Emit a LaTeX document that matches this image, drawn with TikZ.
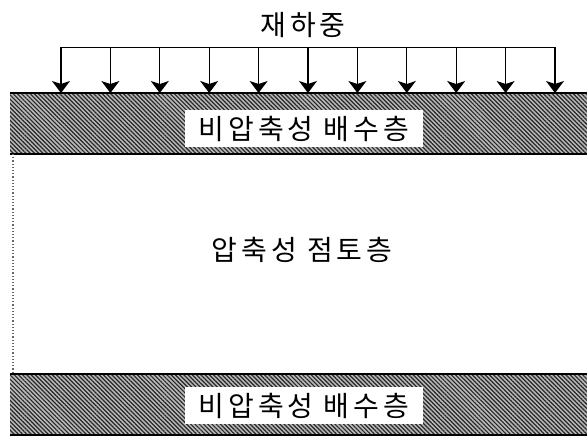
\documentclass[tikz,border=0pt]{standalone}
\usepackage{fontspec}
\newfontfamily\kr{Noto Sans CJK KR}
\usetikzlibrary{arrows.meta,patterns.meta}
\begin{document}
\begin{tikzpicture}[x=1pt,y=-1pt,
  soil/.style={fill=gray!55,postaction={pattern={Lines[angle=-45,distance=3pt,line width=1.2pt]},pattern color=black!85}},
  lbl/.style={font=\fontsize{28}{30}\selectfont\kr\addfontfeature{LetterSpace=14}},
  whitelbl/.style={lbl,fill=white,inner xsep=0pt,inner ysep=0pt,minimum height=37pt},
  loadarrow/.style={line width=1.1pt,-{Stealth[length=12pt,width=18pt,inset=3pt]}}]
\useasboundingbox (0,0) rectangle (587,437);
\fill[white] (0,0) rectangle (587,437);
% layers
\path[soil] (10,93) rectangle (590,154);
\path[soil] (10,374) rectangle (590,435);
\draw[line width=1.2pt] (10,93) -- (590,93);
\draw[line width=1.2pt] (10,154) -- (590,154);
\draw[line width=1.2pt] (10,374) -- (590,374);
\draw[line width=1.2pt] (10,435) -- (590,435);
\coordinate (dl1) at (13,154);
\coordinate (dl2) at (13,374);
\draw[gray!80!black,dotted,line width=1.2pt] (dl1) -- (dl2);
% labels
\node[whitelbl,minimum width=238pt] (top) at (304,128.5) {비압축성 배수층};
\node[whitelbl,minimum width=238pt] (bot) at (304,405.5) {비압축성 배수층};
\node[lbl] (clay) at (302,250) {압축성 점토층};
\node[lbl] (title) at (303,25) {재하중};
% load
\coordinate (L0) at (61,47);
\coordinate (L1) at (555,47);
\draw[line width=1pt] (L0) -- (L1);
\foreach \i in {0,...,10}{
  \coordinate (a\i) at ({61+49.4*\i},47);
  \coordinate (b\i) at ({61+49.4*\i},93);
  \draw[loadarrow] (a\i) -- (b\i);
}
\end{tikzpicture}
\end{document}
